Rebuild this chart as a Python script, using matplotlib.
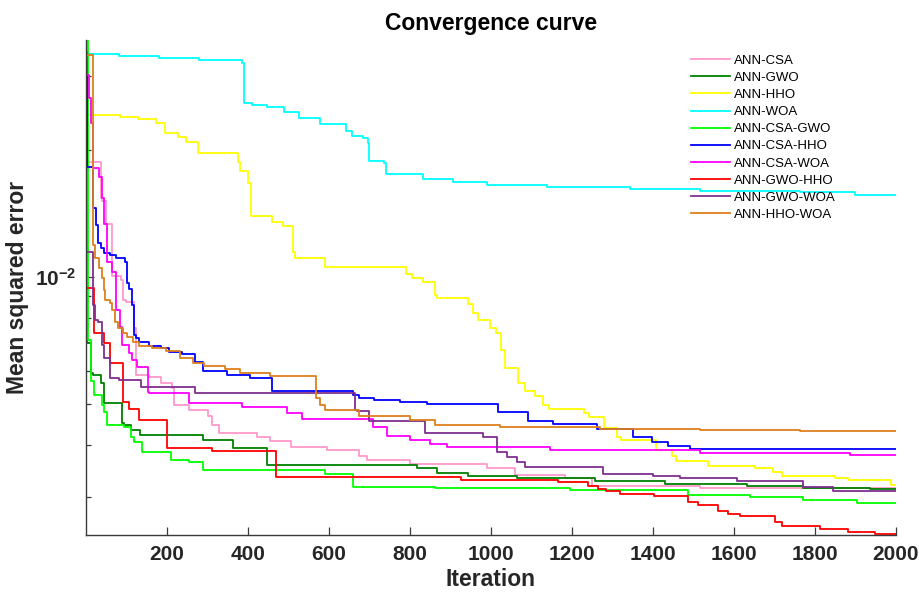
import matplotlib
matplotlib.use('Agg')
import numpy as np
import matplotlib.pyplot as plt
from matplotlib.ticker import LogLocator, NullFormatter, FuncFormatter, FixedLocator

plt.rcParams['font.family'] = ['Liberation Sans', 'DejaVu Sans']
plt.rcParams['mathtext.fontset'] = 'custom'
plt.rcParams['mathtext.rm'] = 'Liberation Sans'
plt.rcParams['mathtext.bf'] = 'Liberation Sans:bold'

# best MSE so far at the iterations where they step down
csa_it = [1, 4, 39, 41, 51, 64, 66, 88, 93, 100, 120, 125, 157, 187, 214, 219, 256, 301, 313, 330,
          422, 454, 508, 595, 676, 694, 800, 990, 1059, 1183, 1250, 1516, 2000]
csa_mse = [0.0346, 0.0188, 0.0154, 0.0152, 0.01336, 0.01086, 0.01006, 0.00984, 0.00882, 0.00872,
           0.00756, 0.00585, 0.00579, 0.00560, 0.00545, 0.00497, 0.00483, 0.00467, 0.00445, 0.00426,
           0.00417, 0.00408, 0.00395, 0.00388, 0.00376, 0.00367, 0.00360, 0.00352, 0.00339, 0.00333,
           0.00319, 0.00315, 0.00315]

gwo_it = [1, 4, 14, 17, 39, 46, 91, 96, 113, 135, 291, 365, 449, 817, 867, 943, 1064, 1257, 1430,
          1633, 1771, 1937, 2000]
gwo_mse = [0.0200, 0.00697, 0.00592, 0.00585, 0.00560, 0.00502, 0.00450, 0.00445, 0.00433, 0.00421,
           0.00410, 0.00393, 0.00358, 0.00352, 0.00342, 0.00337, 0.00333, 0.00328, 0.00322, 0.00319,
           0.00315, 0.00314, 0.00314]

hho_it = [1, 86, 130, 175, 197, 227, 249, 278, 377, 382, 402, 409, 459, 488, 513, 518, 592, 790, 805,
          834, 862, 867, 943, 956, 968, 998, 1012, 1025, 1035, 1067, 1084, 1109, 1128, 1143, 1230,
          1242, 1279, 1311, 1321, 1408, 1447, 1457, 1536, 1652, 1697, 1719, 1850, 1882, 1989, 2000]
hho_mse = [0.0243, 0.0240, 0.0237, 0.0232, 0.0220, 0.0215, 0.0210, 0.0197, 0.0188, 0.0179,
           0.0167, 0.0140, 0.0135, 0.0132, 0.0115, 0.0111, 0.0106, 0.0102, 0.00994, 0.00973,
           0.00906, 0.00891, 0.00863, 0.00821, 0.00790, 0.00756, 0.00736, 0.00671, 0.00608, 0.00560,
           0.00536, 0.00522, 0.00497, 0.00486, 0.00475, 0.00465, 0.00438, 0.00417, 0.00410, 0.00388,
           0.00376, 0.00365, 0.00356, 0.00352, 0.00344, 0.00337, 0.00333, 0.00330, 0.00321, 0.00321]

woa_it = [1, 83, 182, 281, 387, 390, 411, 447, 489, 526, 578, 644, 657, 684, 696, 699, 736, 741, 832,
          906, 990, 1138, 1344, 1516, 1763, 1900, 2000]
woa_mse = [0.0339, 0.0335, 0.0331, 0.0328, 0.0322, 0.0259, 0.0256, 0.0253, 0.0247, 0.0239, 0.0231,
           0.0223, 0.0216, 0.0214, 0.0208, 0.0189, 0.0187, 0.0176, 0.0171, 0.0168, 0.0166, 0.0164,
           0.0162, 0.0160, 0.0159, 0.0157, 0.0157]

csa_gwo_it = [1, 7, 14, 21, 41, 46, 54, 96, 113, 120, 140, 212, 256, 289, 590, 659, 862, 1195, 1487,
              1640, 1771, 1905, 2000]
csa_gwo_mse = [0.0366, 0.00708, 0.00566, 0.00524, 0.00497, 0.00478, 0.00445, 0.00440, 0.00417,
               0.00406, 0.00384, 0.00367, 0.00364, 0.00348, 0.00340, 0.00317, 0.00315, 0.00312,
               0.00304, 0.00300, 0.00295, 0.00290, 0.00290]

csa_hho_it = [1, 4, 17, 19, 26, 31, 39, 46, 59, 76, 98, 103, 108, 115, 120, 125, 133, 157, 187, 207,
              239, 269, 291, 348, 405, 461, 659, 676, 713, 775, 842, 1017, 1092, 1153, 1262, 1351,
              1398, 1438, 1492, 2000]
csa_hho_mse = [0.0328, 0.01825, 0.01592, 0.01459, 0.01329, 0.01205, 0.01172, 0.01140, 0.01128,
               0.01110, 0.01086, 0.00968, 0.00936, 0.00858, 0.00728, 0.00716, 0.00701, 0.00686,
               0.00678, 0.00664, 0.00656, 0.00628, 0.00598, 0.00585, 0.00575, 0.00536, 0.00524,
               0.00516, 0.00510, 0.00505, 0.00499, 0.00478, 0.00455, 0.00448, 0.00435, 0.00417,
               0.00406, 0.00397, 0.00390, 0.00390]

csa_woa_it = [1, 4, 9, 14, 17, 34, 41, 46, 54, 64, 76, 86, 91, 108, 115, 128, 153, 157, 256, 385,
              498, 535, 709, 743, 800, 849, 891, 1146, 1516, 1888, 2000]
csa_woa_mse = [0.0342, 0.0302, 0.0266, 0.0233, 0.0182, 0.0173, 0.0154, 0.0134, 0.01086, 0.0103,
               0.00835, 0.00761, 0.00689, 0.00660, 0.00635, 0.00611, 0.00533, 0.00530, 0.00502,
               0.00491, 0.00475, 0.00460, 0.00440, 0.00419, 0.00410, 0.00401, 0.00395, 0.00388,
               0.00382, 0.00378, 0.00378]

gwo_hho_it = [1, 2, 21, 46, 61, 93, 106, 133, 200, 311, 470, 926, 1166, 1240, 1265, 1284, 1319,
              1403, 1487, 1512, 1561, 1586, 1615, 1702, 1719, 1813, 1882, 1949, 2000]
gwo_hho_mse = [0.0310, 0.00942, 0.00736, 0.00697, 0.00625, 0.00505, 0.00486, 0.00457, 0.00393,
               0.00386, 0.00335, 0.00330, 0.00326, 0.00319, 0.00314, 0.00310, 0.00305, 0.00302,
               0.00292, 0.00287, 0.00278, 0.00274, 0.00271, 0.00262, 0.00256, 0.00252, 0.00248,
               0.00245, 0.00245]

gwo_woa_it = [1, 2, 17, 24, 31, 41, 46, 59, 83, 136, 269, 664, 671, 699, 837, 980, 1015, 1041, 1064,
              1084, 1277, 1401, 1467, 1608, 1771, 1845, 2000]
gwo_woa_mse = [0.0350, 0.01147, 0.00858, 0.00790, 0.00782, 0.00689, 0.00642, 0.00575, 0.00569,
               0.00548, 0.00530, 0.00483, 0.00480, 0.00455, 0.00426, 0.00417, 0.00384, 0.00374,
               0.00364, 0.00354, 0.00340, 0.00337, 0.00333, 0.00328, 0.00317, 0.00310, 0.00310]

hho_woa_it = [1, 17, 24, 34, 41, 46, 49, 59, 66, 73, 81, 93, 103, 118, 133, 165, 199, 234, 264, 293,
              343, 380, 454, 568, 578, 592, 676, 800, 862, 1022, 1269, 1516, 1763, 2000]
hho_woa_mse = [0.0337, 0.01191, 0.01110, 0.01050, 0.00994, 0.00931, 0.00882, 0.00867, 0.00835,
               0.00782, 0.00756, 0.00736, 0.00720, 0.00701, 0.00686, 0.00678, 0.00667, 0.00642,
               0.00625, 0.00615, 0.00605, 0.00592, 0.00582, 0.00516, 0.00497, 0.00483, 0.00467,
               0.00457, 0.00445, 0.00440, 0.00435, 0.00433, 0.00431, 0.00431]

labels = ['ANN-CSA', 'ANN-GWO', 'ANN-HHO', 'ANN-WOA', 'ANN-CSA-GWO', 'ANN-CSA-HHO',
          'ANN-CSA-WOA', 'ANN-GWO-HHO', 'ANN-GWO-WOA', 'ANN-HHO-WOA']
colors = ['#ff99cc', '#008000', '#ffff00', '#00ffff', '#00ff00', '#0000ff',
          '#ff00ff', '#ff0000', '#7e2f8e', '#dd7f1c']
series = [(csa_it, csa_mse), (gwo_it, gwo_mse), (hho_it, hho_mse), (woa_it, woa_mse),
          (csa_gwo_it, csa_gwo_mse), (csa_hho_it, csa_hho_mse), (csa_woa_it, csa_woa_mse),
          (gwo_hho_it, gwo_hho_mse), (gwo_woa_it, gwo_woa_mse), (hho_woa_it, hho_woa_mse)]

fig = plt.figure(figsize=(9.2, 5.96), dpi=100)
ax = fig.add_axes([0.0935, 0.1023, 0.8801, 0.8306])

for (it, mse), lab, c in zip(series, labels, colors):
    ax.plot(it, mse, drawstyle='steps-post', color=c, lw=1.3, label=lab)

ax.set_yscale('log')
ax.set_xlim(1, 2000)
ax.set_ylim(0.00244, 0.0366)
ax.xaxis.set_major_locator(FixedLocator(np.arange(200, 2001, 200)))
ax.yaxis.set_major_locator(LogLocator(base=10))
ax.yaxis.set_minor_locator(LogLocator(base=10, subs=np.arange(2, 10)))
ax.yaxis.set_major_formatter(FuncFormatter(lambda v, p: r'$\mathbf{10^{%d}}$' % round(np.log10(v))))
ax.yaxis.set_minor_formatter(NullFormatter())

for side in ['top', 'right']:
    ax.spines[side].set_visible(False)
for side in ['left', 'bottom']:
    ax.spines[side].set_color('#3a3a3a')
    ax.spines[side].set_linewidth(1.0)

ax.tick_params(which='major', direction='in', length=6, width=0.9, color='#3a3a3a',
               labelsize=15, labelcolor='#262626', pad=7)
ax.tick_params(which='minor', direction='in', length=3.3, width=0.9, color='#3a3a3a')
for t in ax.get_xticklabels() + ax.get_yticklabels():
    t.set_fontweight('bold')

ax.set_title('Convergence curve', fontsize=16.5, fontweight='bold', pad=7)
ax.set_xlabel('Iteration', fontsize=16.5, fontweight='bold', color='#262626', labelpad=3)
ax.set_ylabel('Mean squared error', fontsize=16.5, fontweight='bold', color='#262626', labelpad=4)

ax.legend(loc='upper left', bbox_to_anchor=(684 / 920, 1 - 48 / 596),
          bbox_transform=fig.transFigure, frameon=False, fontsize=9.5,
          handlelength=3.0, handletextpad=0.25, labelspacing=0.37, borderpad=0)

fig.savefig('out.png', dpi=100)
